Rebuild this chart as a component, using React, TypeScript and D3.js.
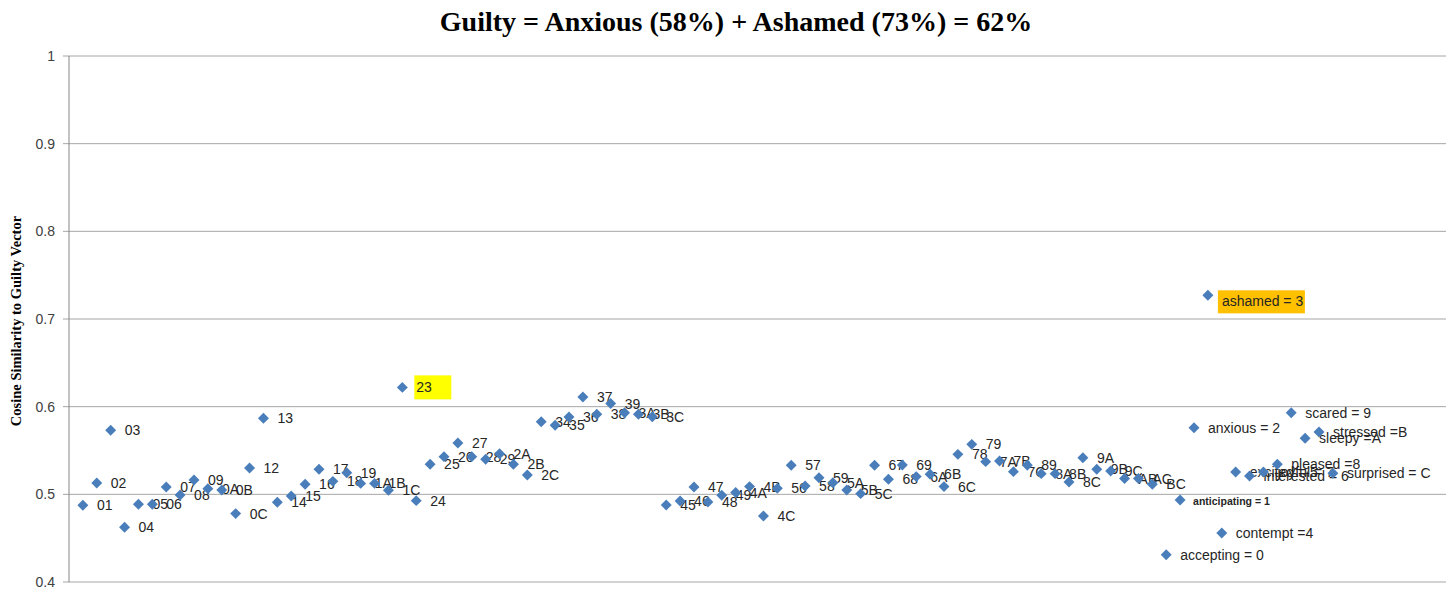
import React from 'react';
import * as d3 from 'd3';

// pair labels (emotion i + emotion j), in the order they sit on the x axis
const pairLabels = [
  '01','02','03','04','05','06','07','08','09','0A','0B','0C',
  '12','13','14','15','16','17','18','19','1A','1B','1C',
  '23','24','25','26','27','28','29','2A','2B','2C',
  '34','35','36','37','38','39','3A','3B','3C',
  '45','46','47','48','49','4A','4B','4C',
  '56','57','58','59','5A','5B','5C',
  '67','68','69','6A','6B','6C',
  '78','79','7A','7B','7C',
  '89','8A','8B','8C',
  '9A','9B','9C',
  'AB','AC',
  'BC',
];

const pairValues = [
  0.4875,0.5129,0.573,0.4624,0.4886,0.4886,0.5083,0.4992,0.5163,0.5065,0.505,0.478,
  0.530,0.5867,0.4909,0.498,0.5114,0.5285,0.5148,0.5247,0.5125,0.5125,0.5046,
  0.622,0.4928,0.5342,0.543,0.5585,0.543,0.540,0.5464,0.5342,0.522,
  0.5829,0.5787,0.5882,0.6111,0.5913,0.6035,0.593,0.5913,0.5886,
  0.4878,0.4924,0.5083,0.4912,0.4989,0.502,0.5088,0.4753,
  0.5068,0.5331,0.5095,0.519,0.5133,0.505,0.5008,
  0.5331,0.5171,0.5334,0.5202,0.5228,0.5088,
  0.5456,0.557,0.5373,0.538,0.5259,
  0.5331,0.5236,0.5236,0.514,
  0.5418,0.5285,0.5266,
  0.518,0.518,
  0.5114,
];

// single emotions
const singleLabels = [
  'accepting = 0','anticipating = 1','anxious = 2','ashamed = 3','contempt =4',
  'excited = 5','interested = 6','joyful = 7','pleased =8','scared = 9',
  'sleepy =A','stressed =B','surprised = C',
];
const singleValues = [
  0.431,0.4935,0.576,0.727,0.456,0.5254,0.5209,0.5254,0.5342,0.593,0.564,0.571,0.524,
];

const yTicks = [0.4, 0.5, 0.6, 0.7, 0.8, 0.9, 1];

const W = 1446, H = 592;
const left = 69, top = 56, bottom = 582, right = 1446;

export default function App() {
  const x = d3.scaleLinear().domain([0, 99]).range([left, 1444]);
  const y = d3.scaleLinear().domain([0.4, 1]).range([bottom, top]);
  const diamond = d3.symbol().type(d3.symbolSquare).size(60)() as string;

  const points = [
    ...pairLabels.map((l, i) => ({ label: l, value: pairValues[i] })),
    ...singleLabels.map((l, i) => ({ label: l, value: singleValues[i] })),
  ];

  return (
    <svg width={W} height={H} style={{ position: 'absolute', left: 0, top: 0 }}
      fontFamily="'Liberation Sans', Arial, sans-serif">
      <rect width={W} height={H} fill="#fff" />
      <text x={736} y={31} textAnchor="middle" fontFamily="'Liberation Serif', serif"
        fontWeight="bold" fontSize={28} fill="#000">
        Guilty = Anxious (58%) + Ashamed (73%) = 62%
      </text>
      <text transform={`translate(21,321) rotate(-90)`} textAnchor="middle"
        fontFamily="'Liberation Serif', serif" fontWeight="bold" fontSize={14.5} fill="#000">
        Cosine Similarity to Guilty Vector
      </text>

      {/* gridlines + y ticks */}
      {yTicks.map(t => (
        <g key={t}>
          <line x1={left - 6} x2={right} y1={y(t)} y2={y(t)} stroke="#a6a6a6" strokeWidth={1} />
          <text x={55} y={y(t) + 5} textAnchor="end" fontSize={14} fill="#404040">{t}</text>
        </g>
      ))}
      <line x1={left} x2={left} y1={top} y2={bottom} stroke="#868686" strokeWidth={1} />

      {/* points and labels */}
      {points.map((p, i) => {
        const px = x(i + 1), py = y(p.value);
        const isGuilty = p.label === '23';
        const isAshamed = p.label === 'ashamed = 3';
        const isAnt = p.label === 'anticipating = 1';
        const dy = isAshamed ? 11 : 5;
        return (
          <g key={p.label}>
            <path d={diamond} transform={`translate(${px},${py}) rotate(45)`} fill="#4a7ebb" />
            {isGuilty && <rect x={px + 12} y={py - 12} width={37} height={24} fill="#ffff00" />}
            {isAshamed && <rect x={px + 10} y={py - 5} width={87} height={23} fill="#ffc000" />}
            <text x={px + (isAnt ? 13 : 14)} y={py + dy} fontSize={isAnt ? 10.5 : 14}
              fontWeight={isAnt ? 'bold' : 'normal'} fill="#262626">
              {p.label}
            </text>
          </g>
        );
      })}
    </svg>
  );
}
